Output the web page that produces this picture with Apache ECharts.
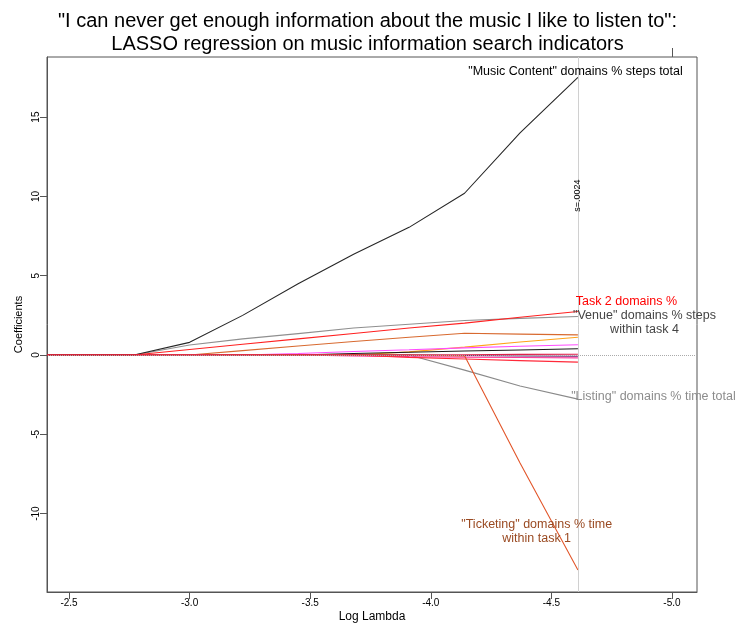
<!DOCTYPE html>
<html><head><meta charset="utf-8">
<script src="https://cdn.jsdelivr.net/npm/echarts@6/dist/echarts.min.js"></script>
<style>html,body{margin:0;padding:0;background:#fff}#c{width:735px;height:624px}</style>
</head><body><div id="c"></div>
<script>
// Log lambda knots (x) of the LASSO path
const logLambda = [-2.409, -2.77, -3.00, -3.22, -3.45, -3.68, -3.91, -4.14, -4.37, -4.61];
// coefficient paths
const musicContent = [0, 0, 0.80, 2.50, 4.50, 6.35, 8.05, 10.20, 14.00, 17.50];
const venue        = [0, 0, 0.63, 1.02, 1.35, 1.70, 1.94, 2.18, 2.31, 2.43];
const task2        = [0, 0, 0.35, 0.68, 1.02, 1.36, 1.70, 2.01, 2.38, 2.74];
const chocolate    = [0, 0, 0, 0.28, 0.57, 0.85, 1.12, 1.37, 1.32, 1.27];
const orange       = [0, 0, 0, 0, 0, 0, 0.20, 0.50, 0.82, 1.12];
const magenta      = [0, 0, 0, 0, 0.10, 0.22, 0.33, 0.45, 0.55, 0.65];
const blackSmall   = [0, 0, 0, 0, 0, 0.10, 0.18, 0.25, 0.32, 0.40];
const crimson      = [0, 0, 0, 0, 0, 0, 0, 0.02, 0.04, 0.05];
const purple       = [0, 0, 0, 0, 0, 0, 0, -0.03, -0.06, -0.08];
const deepPink     = [0, 0, 0, 0, 0, -0.05, -0.10, -0.13, -0.16, -0.18];
const redNeg       = [0, 0, 0, 0, 0, 0, -0.15, -0.25, -0.35, -0.45];
const listing      = [0, 0, 0, 0, 0, 0, 0, -0.95, -1.95, -2.78];
const ticketing    = [0, 0, 0, 0, 0, 0, 0, -0.05, -6.80, -13.55];

const xTicks = [-2.5, -3.0, -3.5, -4.0, -4.5, -5.0];
const yTicks = [-10, -5, 0, 5, 10, 15];
const selectedLambda = -4.61;
const selectedLabel = 's=.0024';

const FONT = '"Liberation Sans", Arial, Helvetica, sans-serif';

function pts(arr) { return arr.map((v, i) => [logLambda[i], v]); }

const pathDefs = [
  { name: 'listing', data: listing, color: '#8a8a8a' },
  { name: 'venue', data: venue, color: '#8f8f8f' },
  { name: 'chocolate', data: chocolate, color: '#d86a30' },
  { name: 'orange', data: orange, color: '#ffa21a' },
  { name: 'magenta', data: magenta, color: '#ff4cff' },
  { name: 'blackSmall', data: blackSmall, color: '#1a1a1a' },
  { name: 'purple', data: purple, color: '#6a1a6a' },
  { name: 'deepPink', data: deepPink, color: '#ff3a9a' },
  { name: 'redNeg', data: redNeg, color: '#ff2a3a' },
  { name: 'ticketing', data: ticketing, color: '#e2562a' },
  { name: 'musicContent', data: musicContent, color: '#262626' },
  { name: 'task2', data: task2, color: '#ff2020' },
  { name: 'crimson', data: crimson, color: '#e0204a' }
];

// annotations: [seriesName, [x, y], text, color]
const annotations = {
  musicContent: [[-4.600, 17.87], '"Music Content" domains % steps total', '#000000'],
  task2: [[-4.811, 3.37], 'Task 2 domains %', '#ff0000'],
  venue: [[-4.886, 2.03], '"Venue" domains % steps\nwithin task 4', '#444444'],
  listing: [[-4.923, -2.64], '"Listing" domains % time total', '#8c8c8c'],
  ticketing: [[-4.439, -11.12], '"Ticketing" domains % time\nwithin task 1', '#9a4a22']
};

const series = pathDefs.map(d => {
  const s = {
    name: d.name, type: 'line', data: pts(d.data), showSymbol: false, symbol: 'none',
    lineStyle: { color: d.color, width: 1.1 }, itemStyle: { color: d.color },
    animation: false, silent: true, z: 3
  };
  const a = annotations[d.name];
  if (a) {
    s.markPoint = {
      symbol: 'circle', symbolSize: 0, animation: false, silent: true,
      data: [{ coord: a[0], value: 0 }],
      label: { show: true, position: 'inside', formatter: a[1], color: a[2],
        fontFamily: FONT, fontSize: 12.5, lineHeight: 14, align: 'center', verticalAlign: 'middle' }
    };
  }
  return s;
});

// reference lines
series.unshift({
  name: 'ref', type: 'line', data: [], silent: true, animation: false, z: 1,
  markLine: {
    symbol: 'none', silent: true, animation: false,
    label: { show: false },
    data: [
      { xAxis: selectedLambda, lineStyle: { color: '#d0d0d0', type: 'solid', width: 1 } },
      { yAxis: 0, lineStyle: { color: '#aaaaaa', type: 'dotted', width: 1 } }
    ]
  },
  markPoint: {
    symbol: 'circle', symbolSize: 0, animation: false, silent: true,
    data: [{ coord: [selectedLambda, 10.05], value: 0 }],
    label: { show: true, position: 'inside', formatter: selectedLabel, rotate: 90,
      color: '#000', fontFamily: FONT, fontSize: 9 }
  }
});

const chart = echarts.init(document.getElementById('c'), null, { renderer: 'canvas' });
chart.setOption({
  backgroundColor: '#ffffff',
  animation: false,
  title: {
    text: '"I can never get enough information about the music I like to listen to":\nLASSO regression on music information search indicators',
    left: 'center', top: 5,
    textStyle: { fontFamily: FONT, fontSize: 20, fontWeight: 'normal', color: '#000', lineHeight: 23 }
  },
  grid: { left: 47, right: 38, top: 57, bottom: 32, show: true, borderColor: '#555', borderWidth: 1,
    containLabel: false, outerBoundsMode: 'none' },
  xAxis: [{
    type: 'value', inverse: true, min: -5.1037, max: -2.4088,
    name: 'Log Lambda', nameLocation: 'middle', nameGap: 19, nameMoveOverlap: false,
    nameTextStyle: { fontFamily: FONT, fontSize: 12, color: '#000' },
    axisLine: { show: true, onZero: false, lineStyle: { color: '#555' } },
    axisTick: { show: true, customValues: xTicks, length: 7, inside: false, lineStyle: { color: '#555' } },
    axisLabel: { show: true, customValues: xTicks, formatter: v => v.toFixed(1), fontFamily: FONT, fontSize: 10, color: '#000', margin: 6 },
    splitLine: { show: false }
  }, {
    type: 'value', inverse: true, min: -5.1037, max: -2.4088, position: 'top',
    axisLine: { show: false, onZero: false },
    axisTick: { show: true, customValues: [-5.0], length: 9, lineStyle: { color: '#555' } },
    axisLabel: { show: false },
    splitLine: { show: false }
  }],
  yAxis: {
    type: 'value', min: -14.94, max: 18.79,
    name: 'Coefficients', nameLocation: 'middle', nameGap: 23, nameMoveOverlap: false,
    nameTextStyle: { fontFamily: FONT, fontSize: 11, color: '#000' },
    axisLine: { show: true, onZero: false, lineStyle: { color: '#555' } },
    axisTick: { show: true, customValues: yTicks, length: 7, lineStyle: { color: '#555' } },
    axisLabel: { show: true, customValues: yTicks, rotate: 90, fontFamily: FONT, fontSize: 10, color: '#000', margin: 6 },
    splitLine: { show: false }
  },
  series: series
});
</script>
</body></html>
